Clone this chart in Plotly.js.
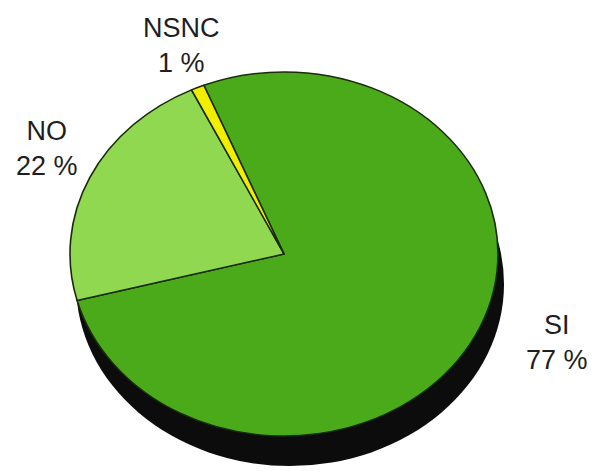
<!DOCTYPE html>
<html>
<head>
<meta charset="utf-8">
<script src="https://cdn.plot.ly/plotly-3.0.1.min.js"></script>
<style>html,body{margin:0;padding:0;background:#fff;}#chart{width:596px;height:472px;}</style>
</head>
<body>
<div id="chart"></div>
<script>
// Data
const categories = ["SI", "NO", "NSNC"];
const values = [77, 22, 1];
const sliceColors = ["#4aaa1a", "#90d84f", "#f2ee00"];
const labelText = ["SI<br>77 %", "NO<br>22 %", "NSNC<br>1 %"];
const labelX = [557, 47, 181];
const labelY = [342, 148, 46];

const W = 596, H = 472;
const cx = 284, cy = 254, rx = 214, ry = 182;
const squash = ry / rx;
const dom = {
  x: [(cx - rx) / W, (cx + rx) / W],
  y: [(H - cy - rx) / H, (H - cy + rx) / H]
};

const shadow = {
  type: "pie",
  values: [1],
  labels: ["shadow"],
  marker: {colors: ["#0c0c0c"], line: {width: 0}},
  textinfo: "none",
  hoverinfo: "skip",
  sort: false,
  showlegend: false,
  domain: dom
};

const pie = {
  type: "pie",
  values: values,
  labels: categories,
  marker: {colors: sliceColors, line: {color: "#1b2b0c", width: 1.6}},
  textinfo: "none",
  hoverinfo: "skip",
  sort: false,
  direction: "clockwise",
  rotation: -22,
  showlegend: false,
  domain: dom
};

const annotations = labelText.map((t, i) => ({
  text: t,
  xref: "paper", yref: "paper",
  x: labelX[i] / W, y: 1 - labelY[i] / H,
  xanchor: "center", yanchor: "middle",
  showarrow: false,
  align: "center",
  font: {family: "Liberation Sans, Arial, sans-serif", size: 27, color: "#1e1e1e"}
}));

const layout = {
  width: W, height: H,
  margin: {l: 0, r: 0, t: 0, b: 0},
  paper_bgcolor: "#ffffff",
  showlegend: false,
  annotations: annotations
};

Plotly.newPlot("chart", [shadow, pie], layout, {staticPlot: true, displayModeBar: false}).then(function (gd) {
  const groups = gd.querySelectorAll(".pielayer g.trace");
  groups.forEach(function (g, i) {
    const dx = i === 0 ? 6 : 0;
    const dy = i === 0 ? 30 : 0;
    g.setAttribute("transform", "translate(" + dx + "," + (cy * (1 - squash) + dy) + ") scale(1," + squash + ")");
  });
});
</script>
</body>
</html>
